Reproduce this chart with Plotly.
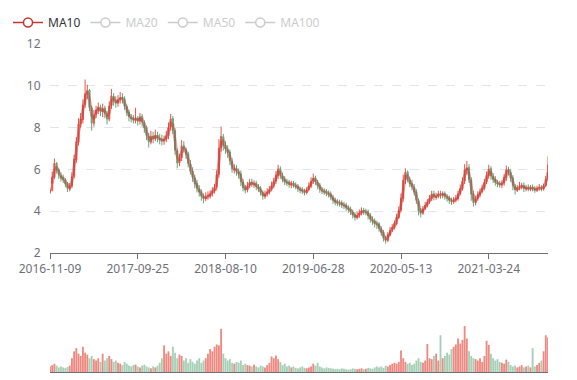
import pandas as pd
import plotly.graph_objects as go
from plotly.subplots import make_subplots

OPEN = [4.90, 5.00, 5.62, 6.30, 5.98, 5.70, 5.62, 5.50, 5.34, 5.05,
        5.20, 5.66, 6.45, 7.30, 8.20, 8.38, 9.10, 9.60, 9.80, 8.95,
        8.20, 8.64, 8.82, 8.99, 8.74, 8.94, 8.66, 8.40, 9.05, 9.50,
        9.30, 9.16, 9.35, 9.44, 9.38, 9.00, 8.73, 8.50, 8.45, 8.36,
        8.46, 8.30, 8.54, 8.25, 7.99, 7.60, 7.30, 7.60, 7.45, 7.65,
        7.50, 7.44, 7.36, 7.46, 7.60, 8.04, 8.43, 7.86, 6.90, 6.30,
        6.55, 7.14, 6.96, 6.74, 6.26, 5.93, 5.60, 5.33, 5.06, 4.94,
        4.73, 4.60, 4.70, 4.72, 4.85, 4.96, 5.14, 5.76, 7.04, 7.56,
        7.16, 6.95, 6.83, 6.40, 5.98, 6.05, 5.89, 5.80, 5.40, 5.14,
        5.01, 5.23, 5.40, 5.27, 5.34, 5.16, 5.10, 4.89, 4.70, 4.83,
        4.90, 5.05, 5.20, 5.43, 5.70, 6.04, 5.69, 5.54, 5.39, 5.38,
        5.26, 5.33, 5.25, 5.21, 5.06, 5.03, 4.95, 4.89, 5.04, 5.19,
        5.45, 5.60, 5.39, 5.24, 5.02, 4.96, 4.94, 4.86, 4.83, 4.66,
        4.54, 4.45, 4.39, 4.40, 4.29, 4.29, 4.16, 4.11, 3.96, 3.84,
        3.69, 3.81, 3.89, 4.04, 3.96, 3.98, 3.80, 3.59, 3.54, 3.39,
        3.40, 3.16, 3.00, 2.69, 2.60, 2.86, 3.10, 3.20, 3.39, 3.70,
        4.05, 4.60, 5.50, 5.88, 5.50, 5.33, 5.16, 4.93, 4.50, 4.04,
        3.90, 4.13, 4.26, 4.44, 4.59, 4.84, 4.66, 4.74, 4.83, 4.76,
        4.85, 4.69, 4.64, 4.50, 4.46, 4.55, 4.59, 4.84, 5.06, 5.44,
        5.96, 6.10, 5.50, 4.84, 4.40, 4.60, 4.77, 4.94, 5.09, 5.40,
        5.70, 6.04, 5.66, 5.54, 5.36, 5.33, 5.26, 5.35, 5.60, 6.00,
        5.86, 5.60, 5.19, 5.00, 5.13, 5.16, 5.24, 5.07, 5.14, 5.06,
        5.15, 5.09, 5.00, 5.11, 5.14, 5.06, 5.23, 5.55]

CLOSE = [5.02, 5.64, 6.28, 5.96, 5.74, 5.58, 5.52, 5.31, 5.08, 5.22,
         5.63, 6.48, 7.32, 8.18, 8.41, 9.08, 9.62, 9.78, 8.96, 8.22,
         8.61, 8.84, 8.97, 8.76, 8.92, 8.68, 8.41, 9.03, 9.52, 9.28,
         9.18, 9.34, 9.42, 9.37, 9.02, 8.71, 8.52, 8.43, 8.38, 8.44,
         8.31, 8.52, 8.27, 7.98, 7.62, 7.31, 7.58, 7.47, 7.63, 7.49,
         7.42, 7.38, 7.44, 7.61, 8.02, 8.41, 7.88, 6.92, 6.31, 6.52,
         7.12, 6.98, 6.72, 6.28, 5.91, 5.62, 5.31, 5.08, 4.92, 4.71,
         4.62, 4.68, 4.74, 4.83, 4.98, 5.12, 5.74, 7.02, 7.58, 7.14,
         6.97, 6.81, 6.42, 6.03, 6.02, 5.91, 5.78, 5.42, 5.12, 5.03,
         5.21, 5.38, 5.29, 5.32, 5.18, 5.08, 4.91, 4.72, 4.81, 4.92,
         5.03, 5.22, 5.41, 5.72, 6.02, 5.71, 5.52, 5.41, 5.36, 5.28,
         5.31, 5.27, 5.19, 5.08, 5.01, 4.97, 4.91, 5.02, 5.21, 5.43,
         5.58, 5.41, 5.22, 5.04, 4.98, 4.92, 4.88, 4.81, 4.68, 4.52,
         4.43, 4.41, 4.38, 4.31, 4.27, 4.18, 4.09, 3.98, 3.82, 3.71,
         3.79, 3.91, 4.02, 3.98, 3.96, 3.78, 3.61, 3.52, 3.41, 3.38,
         3.18, 2.98, 2.71, 2.62, 2.88, 3.08, 3.22, 3.41, 3.72, 4.03,
         4.62, 5.48, 5.86, 5.52, 5.31, 5.18, 4.91, 4.52, 4.02, 3.92,
         4.11, 4.28, 4.42, 4.61, 4.82, 4.68, 4.72, 4.81, 4.78, 4.83,
         4.71, 4.62, 4.52, 4.48, 4.53, 4.61, 4.82, 5.08, 5.42, 5.98,
         6.08, 5.52, 4.82, 4.42, 4.58, 4.79, 4.92, 5.11, 5.38, 5.72,
         6.02, 5.68, 5.52, 5.38, 5.31, 5.28, 5.33, 5.62, 5.98, 5.88,
         5.58, 5.21, 5.02, 5.11, 5.18, 5.22, 5.09, 5.12, 5.08, 5.13,
         5.07, 5.02, 5.09, 5.12, 5.08, 5.21, 5.52, 6.21]

HIGH = [5.15, 5.90, 6.52, 6.35, 6.05, 5.85, 5.75, 5.58, 5.40, 5.35,
        5.85, 6.70, 7.55, 8.45, 8.70, 9.35, 10.30, 10.05, 9.85, 9.05,
        8.85, 9.05, 9.20, 9.10, 9.15, 9.05, 8.80, 9.25, 9.85, 9.65,
        9.50, 9.55, 9.70, 9.65, 9.50, 9.10, 8.85, 8.65, 8.60, 8.95,
        8.55, 8.70, 8.65, 8.35, 8.10, 7.75, 7.85, 7.80, 7.90, 7.80,
        7.70, 7.65, 7.62, 7.85, 8.25, 8.65, 8.55, 8.00, 7.00, 6.75,
        7.40, 7.35, 7.05, 6.85, 6.45, 6.10, 5.75, 5.50, 5.25, 5.05,
        4.85, 4.90, 4.95, 5.00, 5.15, 5.30, 5.95, 7.45, 8.05, 7.70,
        7.35, 7.15, 6.95, 6.55, 6.25, 6.20, 6.05, 5.95, 5.55, 5.25,
        5.40, 5.55, 5.55, 5.48, 5.45, 5.30, 5.20, 5.00, 4.98, 5.10,
        5.20, 5.42, 5.60, 5.92, 6.22, 6.15, 5.85, 5.68, 5.55, 5.50,
        5.45, 5.45, 5.38, 5.30, 5.18, 5.15, 5.08, 5.15, 5.38, 5.62,
        5.80, 5.70, 5.50, 5.35, 5.15, 5.10, 5.06, 5.00, 4.95, 4.78,
        4.65, 4.58, 4.55, 4.52, 4.45, 4.40, 4.28, 4.22, 4.08, 3.95,
        3.98, 4.08, 4.18, 4.16, 4.12, 4.08, 3.92, 3.75, 3.65, 3.55,
        3.48, 3.28, 3.10, 2.82, 3.00, 3.25, 3.38, 3.55, 3.88, 4.22,
        4.85, 5.75, 6.05, 5.95, 5.65, 5.50, 5.30, 5.05, 4.60, 4.15,
        4.25, 4.45, 4.58, 4.78, 4.98, 4.98, 4.88, 4.98, 4.98, 4.95,
        4.95, 4.82, 4.75, 4.65, 4.68, 4.78, 4.98, 5.28, 5.62, 6.25,
        6.40, 6.25, 5.62, 4.98, 4.75, 4.95, 5.08, 5.28, 5.55, 5.90,
        6.22, 6.15, 5.82, 5.68, 5.50, 5.45, 5.48, 5.78, 6.18, 6.12,
        6.02, 5.72, 5.30, 5.25, 5.40, 5.35, 5.38, 5.26, 5.28, 5.25,
        5.28, 5.20, 5.22, 5.30, 5.25, 5.32, 5.68, 6.62]

LOW = [4.82, 4.95, 5.55, 5.80, 5.55, 5.42, 5.35, 5.15, 4.92, 4.95,
       5.10, 5.55, 6.30, 7.15, 8.00, 8.20, 8.95, 9.35, 8.80, 7.85,
       8.05, 8.45, 8.65, 8.55, 8.50, 8.45, 8.15, 8.30, 8.90, 9.05,
       8.95, 9.00, 9.15, 9.15, 8.85, 8.55, 8.30, 8.25, 8.20, 8.20,
       8.10, 8.15, 8.05, 7.75, 7.40, 7.05, 7.20, 7.25, 7.35, 7.30,
       7.20, 7.15, 7.18, 7.30, 7.45, 7.85, 7.70, 6.70, 6.05, 6.15,
       6.40, 6.80, 6.50, 6.10, 5.75, 5.40, 5.10, 4.90, 4.70, 4.50,
       4.38, 4.48, 4.55, 4.60, 4.70, 4.85, 5.00, 5.60, 6.85, 6.90,
       6.75, 6.55, 6.20, 5.85, 5.80, 5.70, 5.55, 5.20, 4.95, 4.85,
       4.90, 5.10, 5.15, 5.12, 5.00, 4.92, 4.75, 4.55, 4.58, 4.70,
       4.80, 4.95, 5.10, 5.30, 5.55, 5.55, 5.38, 5.25, 5.20, 5.12,
       5.10, 5.12, 5.05, 4.92, 4.85, 4.82, 4.75, 4.80, 4.95, 5.10,
       5.30, 5.25, 5.05, 4.88, 4.82, 4.78, 4.72, 4.65, 4.52, 4.35,
       4.28, 4.25, 4.22, 4.15, 4.10, 4.02, 3.92, 3.82, 3.65, 3.55,
       3.60, 3.68, 3.80, 3.82, 3.80, 3.60, 3.45, 3.35, 3.22, 3.15,
       3.02, 2.82, 2.55, 2.45, 2.52, 2.80, 3.00, 3.12, 3.32, 3.62,
       3.95, 4.45, 5.30, 5.38, 5.15, 5.00, 4.75, 4.35, 3.80, 3.70,
       3.82, 4.05, 4.18, 4.35, 4.48, 4.52, 4.55, 4.62, 4.60, 4.62,
       4.55, 4.45, 4.35, 4.30, 4.35, 4.42, 4.50, 4.75, 4.98, 5.30,
       5.75, 5.35, 4.50, 4.22, 4.28, 4.50, 4.65, 4.85, 5.00, 5.30,
       5.55, 5.50, 5.35, 5.22, 5.15, 5.12, 5.10, 5.22, 5.45, 5.70,
       5.40, 5.00, 4.80, 4.92, 5.00, 5.05, 4.92, 4.95, 4.95, 4.96,
       4.95, 4.88, 4.92, 4.98, 4.95, 4.98, 5.15, 5.45]

VOLUME = [12, 15, 18, 14, 10, 12, 10, 9, 11, 14,
          30, 45, 52, 40, 35, 55, 42, 38, 30, 35,
          28, 25, 30, 22, 40, 25, 30, 35, 28, 22,
          25, 20, 18, 15, 22, 18, 14, 12, 15, 16,
          12, 10, 14, 16, 12, 10, 8, 12, 10, 14,
          20, 30, 58, 40, 45, 35, 55, 42, 30, 38,
          35, 25, 30, 20, 28, 22, 18, 25, 30, 20,
          25, 30, 40, 50, 45, 55, 60, 58, 94, 40,
          30, 25, 28, 20, 18, 22, 20, 25, 15, 18,
          15, 14, 12, 16, 12, 10, 14, 12, 10, 15,
          20, 34, 30, 36, 28, 22, 15, 18, 12, 14,
          10, 12, 9, 8, 10, 12, 9, 8, 10, 12,
          18, 14, 20, 12, 10, 8, 10, 9, 8, 7,
          6, 7, 6, 8, 7, 6, 5, 6, 8, 7,
          6, 7, 8, 6, 7, 9, 8, 7, 10, 12,
          10, 12, 9, 14, 12, 15, 18, 20, 18, 22,
          47, 30, 22, 18, 20, 15, 18, 25, 30, 22,
          20, 25, 61, 30, 28, 35, 40, 25, 80, 30,
          35, 42, 38, 50, 55, 60, 73, 62, 70, 100,
          73, 45, 35, 30, 28, 25, 30, 22, 35, 68,
          59, 40, 30, 25, 28, 22, 20, 18, 27, 22,
          15, 12, 14, 10, 12, 15, 10, 12, 14, 10,
          52, 12, 15, 20, 25, 45, 80, 75]

TICK_LABELS = ["2016-11-09", "2017-09-25", "2018-08-10",
               "2019-06-28", "2020-05-13", "2021-03-24"]
TICK_EVERY = 40

UP = "#e5574c"
DOWN = "#5fa878"
MA_COLOR = "#c23531"
AXIS = "#6e7079"
FONT = "Noto Sans"

idx = list(range(len(CLOSE)))
close_s = pd.Series(CLOSE)
ma10 = close_s.rolling(2).mean()
ma20 = close_s.rolling(4).mean()
ma50 = close_s.rolling(10).mean()
ma100 = close_s.rolling(20).mean()

vol_colors = ["rgba(229,87,76,0.7)" if c >= o else "rgba(95,168,120,0.55)"
              for o, c in zip(OPEN, CLOSE)]

fig = make_subplots(rows=2, cols=1, shared_xaxes=False)

fig.add_trace(go.Candlestick(
    x=idx, open=OPEN, high=HIGH, low=LOW, close=CLOSE,
    increasing=dict(line=dict(color=UP, width=1), fillcolor=UP),
    decreasing=dict(line=dict(color=DOWN, width=1), fillcolor=DOWN),
    showlegend=False, name="K"), row=1, col=1)

fig.add_trace(go.Scatter(x=idx, y=ma10, mode="lines",
                         line=dict(color=MA_COLOR, width=3), opacity=0.45,
                         showlegend=False, name="MA10"), row=1, col=1)

# legend entries
fig.add_trace(go.Scatter(x=[None], y=[None], mode="lines+markers", name="MA10",
                         line=dict(color=MA_COLOR, width=1.5),
                         marker=dict(symbol="circle", size=9, color="white",
                                     line=dict(color=MA_COLOR, width=1.5))),
              row=1, col=1)
for nm, ser in (("MA20", ma20), ("MA50", ma50), ("MA100", ma100)):
    fig.add_trace(go.Scatter(x=idx, y=ser, mode="lines+markers",
                             name='<span style="color:#999">%s</span>' % nm,
                             visible="legendonly",
                             line=dict(color="#999", width=1.5),
                             marker=dict(symbol="circle", size=9, color="white",
                                         line=dict(color="#999", width=1.5))),
                  row=1, col=1)

fig.add_trace(go.Bar(x=idx, y=VOLUME, marker=dict(color=vol_colors, line=dict(width=0)),
                     showlegend=False, name="Volume"), row=2, col=1)

n = len(CLOSE)
# the page body adds an 8px offset, so the figure is 8px smaller and margins shifted
fig.update_layout(
    width=569, height=372,
    margin=dict(l=42, r=29, t=36, b=8, autoexpand=False),
    paper_bgcolor="white", plot_bgcolor="white",
    font=dict(family=FONT, size=12, color="#333"),
    bargap=0.15,
    legend=dict(orientation="h", xref="container", x=0.0, xanchor="left",
                yref="container", y=1.0, yanchor="top",
                font=dict(size=12, color="#333"), itemwidth=30,
                bgcolor="rgba(0,0,0,0)", tracegroupgap=0,
                borderwidth=0),
    xaxis=dict(domain=[0, 1], range=[0, n - 1], rangeslider=dict(visible=False),
               automargin=False,
               showgrid=False, zeroline=False, showline=True, linecolor=AXIS,
               ticks="outside", ticklen=5, tickcolor=AXIS,
               tickvals=[k * TICK_EVERY for k in range(len(TICK_LABELS))],
               ticktext=TICK_LABELS, tickfont=dict(color=AXIS, size=12)),
    yaxis=dict(domain=[0.3628, 1.0], range=[2, 12], dtick=2, automargin=False,
               showgrid=True, gridcolor="#e0e6f1", griddash="dash",
               zeroline=False, showline=False,
               ticks="outside", ticklen=6, tickcolor="rgba(0,0,0,0)",
               tickfont=dict(color=AXIS, size=12)),
    xaxis2=dict(domain=[0, 1], range=[0, n - 1], showgrid=False, zeroline=False,
                automargin=False,
                showline=True, linecolor=AXIS, showticklabels=False, ticks=""),
    yaxis2=dict(domain=[0, 0.14], range=[0, 100], showgrid=False, zeroline=False,
                automargin=False,
                showline=False, showticklabels=False, ticks=""),
)

fig.write_html("out.html")
